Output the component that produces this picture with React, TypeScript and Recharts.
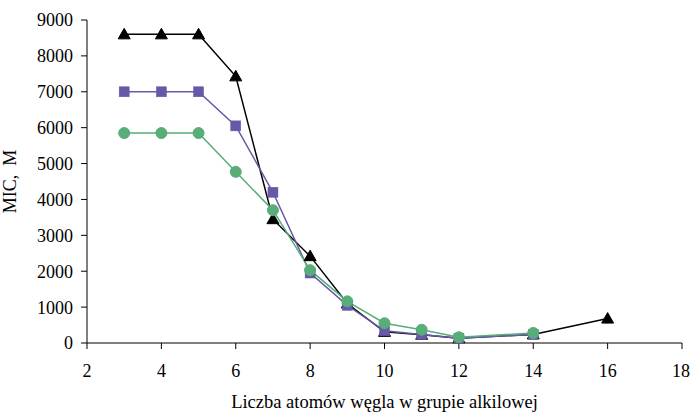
import React from "react";
import { LineChart, Line, XAxis, YAxis, Label } from "recharts";

const carbonAtoms = [3, 4, 5, 6, 7, 8, 9, 10, 11, 12, 14, 16];
const seriesTriangle = [8600, 8600, 8600, 7430, 3450, 2420, 1100, 310, 230, 130, 240, 680];
const seriesSquare = [7000, 7000, 7000, 6050, 4200, 1950, 1050, 340, 240, 130, 240];
const seriesCircle = [5850, 5850, 5850, 4770, 3700, 2030, 1160, 550, 370, 160, 280];
const xTicks = [2, 4, 6, 8, 10, 12, 14, 16, 18];
const yTicks = [0, 1000, 2000, 3000, 4000, 5000, 6000, 7000, 8000, 9000];

const toRows = (vals: number[]) => vals.map((v, i) => ({ x: carbonAtoms[i], y: v }));
const triData = toRows(seriesTriangle);
const sqData = toRows(seriesSquare);
const circData = toRows(seriesCircle);

const FONT = "'Liberation Serif', 'Times New Roman', serif";
const BLACK = "#000000";
const PURPLE = "#6659A8";
const GREEN = "#58AD78";

const TriDot = (p: any) => {
  const { cx, cy, index } = p;
  const s = 6;
  return (
    <polygon
      key={`t-${index}`}
      points={`${cx},${cy - s} ${cx - s},${cy + s * 0.75} ${cx + s},${cy + s * 0.75}`}
      fill={BLACK}
      stroke={BLACK}
    />
  );
};
const SqDot = (p: any) => {
  const { cx, cy, index } = p;
  return <rect key={`s-${index}`} x={cx - 5} y={cy - 5} width={10} height={10} fill={PURPLE} stroke={PURPLE} strokeWidth={0.5} />;
};
const CircDot = (p: any) => {
  const { cx, cy, index } = p;
  return <circle key={`c-${index}`} cx={cx} cy={cy} r={5.5} fill={GREEN} stroke={GREEN} />;
};

export default function App() {
  return (
    <div style={{ position: "absolute", left: 0, top: 0, background: "#fff" }}>
      <LineChart width={690} height={412} margin={{ top: 20, right: 8, bottom: 0, left: 0 }}>
        <XAxis
          type="number"
          dataKey="x"
          domain={[2, 18]}
          ticks={xTicks}
          allowDuplicatedCategory={false}
          height={69}
          stroke={BLACK}
          tickSize={6}
          tickMargin={15}
          tick={{ fill: BLACK, fontSize: 18, fontFamily: FONT }}
        >
          <Label
            value="Liczba atomów węgla w grupie alkilowej"
            position="insideBottom"
            offset={4}
            style={{ fill: BLACK, fontSize: 18.5, fontFamily: FONT }}
          />
        </XAxis>
        <YAxis
          type="number"
          domain={[0, 9000]}
          ticks={yTicks}
          width={87}
          stroke={BLACK}
          tickSize={6}
          tickMargin={8}
          tick={{ fill: BLACK, fontSize: 18, fontFamily: FONT }}
        >
          <Label
            value={"MIC,\u00A0\u00A0M"}
            angle={-90}
            position="insideLeft"
            offset={10}
            style={{ fill: BLACK, fontSize: 18, fontFamily: FONT, textAnchor: "middle" }}
          />
        </YAxis>
        <Line data={triData} dataKey="y" stroke={BLACK} strokeWidth={1.5} dot={TriDot} isAnimationActive={false} />
        <Line data={sqData} dataKey="y" stroke={PURPLE} strokeWidth={1.5} dot={SqDot} isAnimationActive={false} />
        <Line data={circData} dataKey="y" stroke={GREEN} strokeWidth={1.5} dot={CircDot} isAnimationActive={false} />
      </LineChart>
    </div>
  );
}
